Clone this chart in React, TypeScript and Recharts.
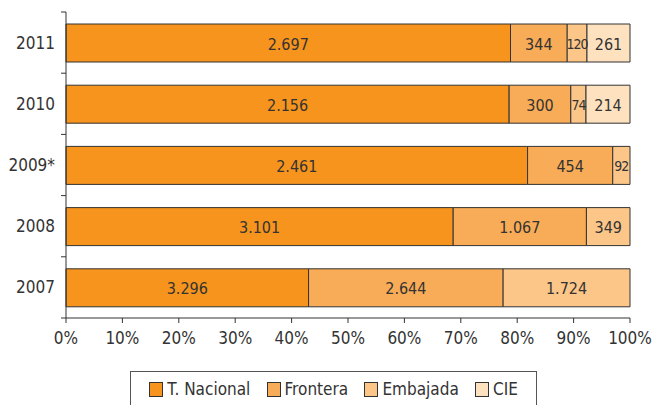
import React from "react";
import { BarChart, Bar, XAxis, YAxis, LabelList, Legend } from "recharts";

const years = ["2011", "2010", "2009*", "2008", "2007"];
const tNacional = [2697, 2156, 2461, 3101, 3296];
const frontera = [344, 300, 454, 1067, 2644];
const embajada = [120, 74, 92, 349, 1724];
const cie = [261, 214, 0, 0, 0];
const xTicks = [0, 0.1, 0.2, 0.3, 0.4, 0.5, 0.6, 0.7, 0.8, 0.9, 1];

const series = [
  { key: "tn", name: "T. Nacional", color: "#F7941D", values: tNacional },
  { key: "fr", name: "Frontera", color: "#F9AC57", values: frontera },
  { key: "em", name: "Embajada", color: "#FCC689", values: embajada },
  { key: "ci", name: "CIE", color: "#FEE1BE", values: cie },
];

const data = years.map((y, i) => ({
  year: y,
  idx: i,
  tn: tNacional[i],
  fr: frontera[i],
  em: embajada[i],
  ci: cie[i],
}));

const FONT = "'Liberation Sans Narrow', 'DejaVu Sans Condensed', 'DejaVu Sans', sans-serif";
const textStyle: any = { fontStretch: "condensed" };

const PLOT_H = 405 - 12 - 57 - 30;
const BAND = PLOT_H / years.length;

const fmt = (v: number) => v.toString().replace(/\B(?=(\d{3})+(?!\d))/g, ".");

const makeLabel = (key: string) => (props: any) => {
  const { x, y, width, height, index } = props;
  const row: any = data[index];
  const v = row ? row[key] : 0;
  if (!v) return null;
  const small = Number(width) < 30;
  return (
    <text
      x={Number(x) + Number(width) / 2}
      y={Number(y) + Number(height) / 2 + 1}
      textAnchor="middle"
      dominantBaseline="central"
      fill="#333"
      fontSize={small ? 14 : 16}
      fontFamily={FONT}
      style={small ? { fontStretch: "extra-condensed", letterSpacing: -1 } : textStyle}
    >
      {fmt(v)}
    </text>
  );
};

const YTick = (props: any) => {
  const { x, y, payload, index } = props;
  const axisX = 66;
  return (
    <g>
      <line x1={axisX - 5} x2={axisX} y1={y - BAND / 2} y2={y - BAND / 2} stroke="#333" />
      {index === years.length - 1 && (
        <line x1={axisX - 5} x2={axisX} y1={y + BAND / 2} y2={y + BAND / 2} stroke="#333" />
      )}
      <text
        x={x}
        y={y}
        textAnchor="end"
        dominantBaseline="central"
        fill="#333"
        fontSize={17}
        fontFamily={FONT}
        style={textStyle}
      >
        {payload.value}
      </text>
    </g>
  );
};

const LegendContent = () => (
  <div
    style={{
      border: "1px solid #555",
      height: 40,
      boxSizing: "border-box",
      display: "flex",
      alignItems: "center",
      justifyContent: "space-around",
      padding: "0 10px 4px 10px",
      fontFamily: FONT,
      fontStretch: "condensed",
      fontSize: 17,
      color: "#333",
      background: "#fff",
    }}
  >
    {series.map((s) => (
      <div key={s.key} style={{ display: "flex", alignItems: "center" }}>
        <span
          style={{
            display: "inline-block",
            width: 12,
            height: 13,
            background: s.color,
            border: "1px solid #333",
            marginRight: 4,
          }}
        />
        <span>{s.name}</span>
      </div>
    ))}
  </div>
);

export default function App() {
  return (
    <div style={{ position: "absolute", left: 0, top: 0, background: "#fff" }}>
      <BarChart
        width={655}
        height={405}
        data={data}
        layout="vertical"
        stackOffset="expand"
        barSize={38}
        margin={{ top: 12, right: 25, bottom: 57, left: 0 }}
      >
        <YAxis
          type="category"
          dataKey="year"
          width={66}
          tickLine={false}
          axisLine={{ stroke: "#333" }}
          tick={<YTick />}
          tickMargin={5}
        />
        <XAxis
          type="number"
          domain={[0, 1]}
          ticks={xTicks}
          height={30}
          tickFormatter={(v: number) => `${Math.round(v * 100)}%`}
          tick={{ fill: "#333", fontSize: 17, fontFamily: FONT, style: textStyle }}
          tickLine={{ stroke: "#333" }}
          tickSize={5}
          tickMargin={9}
          axisLine={{ stroke: "#333" }}
        />
        {series.map((s) => (
          <Bar
            key={s.key}
            dataKey={s.key}
            name={s.name}
            stackId="s"
            fill={s.color}
            stroke="#333"
            strokeWidth={1}
            isAnimationActive={false}
          >
            <LabelList dataKey={s.key} content={makeLabel(s.key)} />
          </Bar>
        ))}
        <Legend
          verticalAlign="middle"
          align="center"
          layout="horizontal"
          content={<LegendContent />}
          wrapperStyle={{ position: "absolute", left: 130, top: 371, width: 407, height: 40 }}
        />
      </BarChart>
    </div>
  );
}
